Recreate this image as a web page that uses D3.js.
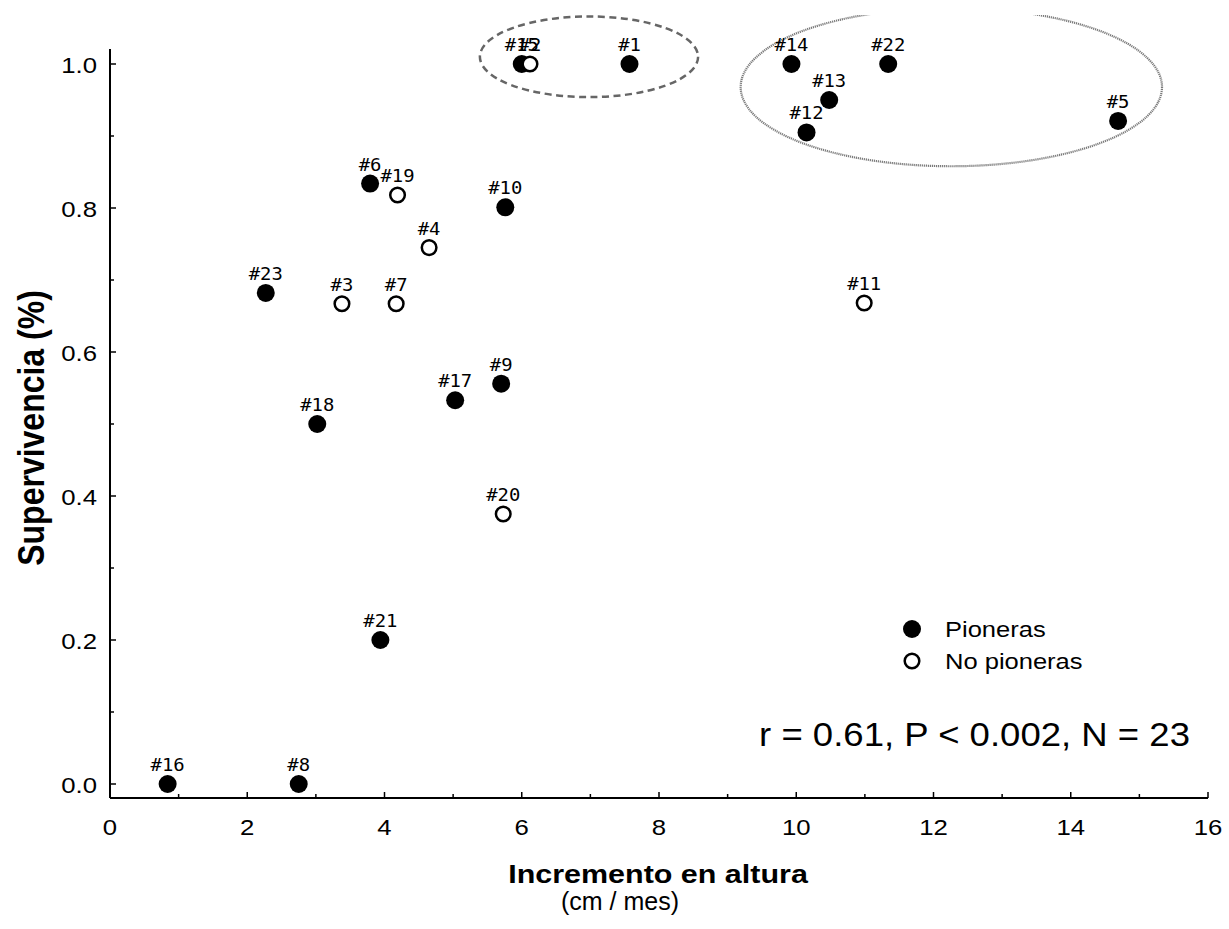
<!DOCTYPE html>
<html>
<head>
<meta charset="utf-8">
<script src="https://cdn.jsdelivr.net/npm/d3@7"></script>
<style>
  html, body { margin: 0; padding: 0; background: #fff; }
  svg { display: block; }
</style>
</head>
<body>
<svg id="chart" width="1229" height="929"></svg>
<script>
// Species identifiers, growth (cm/month), survival proportion and group
const speciesIds = ["#1","#2","#3","#4","#5","#6","#7","#8","#9","#10","#11","#12",
                    "#13","#14","#15","#16","#17","#18","#19","#20","#21","#22","#23"];
const growth   = [7.57, 6.12, 3.38, 4.65, 14.69, 3.79, 4.17, 2.75, 5.70, 5.76, 10.99, 10.15,
                  10.48, 9.93, 6.00, 0.84, 5.03, 3.02, 4.19, 5.73, 3.94, 11.34, 2.27];
const survival = [1.0, 1.0, 0.667, 0.745, 0.921, 0.834, 0.667, 0.0, 0.556, 0.801, 0.668, 0.905,
                  0.95, 1.0, 1.0, 0.0, 0.533, 0.5, 0.818, 0.375, 0.2, 1.0, 0.682];
const pioneer  = [true, false, false, false, true, true, false, true, true, true, false, true,
                  true, true, true, true, true, true, false, false, true, true, true];

const xTicks = [0, 2, 4, 6, 8, 10, 12, 14, 16];
const yTicks = [0, 0.2, 0.4, 0.6, 0.8, 1.0];
const legendLabels = ["Pioneras", "No pioneras"];
const statsText = "r = 0.61, P < 0.002, N = 23";

// Grouping ellipses, in data units: centre x, centre y, radius x, radius y
const groupEllipses = [
  { cx: 6.98, cy: 1.01, rx: 1.59, ry: 0.056, kind: "dashed" },
  { cx: 12.26, cy: 0.968, rx: 3.07, ry: 0.110, kind: "dotted" }
];

const svg = d3.select("#chart");
const x = d3.scaleLinear().domain([0, 16]).range([110, 1208]);
const y = d3.scaleLinear().domain([0, 1]).range([784, 64]);
const axisY = 798;   // x axis sits a little below the zero line
const axisX = 110;

const sans = "'Liberation Sans', Arial, sans-serif";
const mono = "'DejaVu Sans Mono', monospace";

// Text placed at (px, py), optionally widened horizontally by sx
function label(parent, px, py, txt, opts) {
  const o = Object.assign({ size: 20, family: sans, weight: "normal", anchor: "start", sx: 1, rotate: 0 }, opts);
  return parent.append("text")
    .attr("transform", `translate(${px},${py}) scale(${o.sx},1)` + (o.rotate ? ` rotate(${o.rotate})` : ""))
    .attr("text-anchor", o.anchor)
    .style("font-family", o.family).style("font-size", o.size + "px").style("font-weight", o.weight)
    .text(txt);
}

// ---- Axes (ticks point inward) ----
const gx = svg.append("g").attr("transform", `translate(0,${axisY})`);
gx.append("line").attr("x1", x(0)).attr("x2", x(16)).attr("y1", 0).attr("y2", 0)
  .attr("stroke", "#000").attr("stroke-width", 2);
gx.selectAll("line.minor").data(d3.range(1, 16, 2)).join("line")
  .attr("class", "minor").attr("x1", d => x(d)).attr("x2", d => x(d))
  .attr("y1", 0).attr("y2", -4).attr("stroke", "#000").attr("stroke-width", 1.5);
gx.selectAll("line.major").data(xTicks).join("line")
  .attr("class", "major").attr("x1", d => x(d)).attr("x2", d => x(d))
  .attr("y1", 0).attr("y2", -6).attr("stroke", "#000").attr("stroke-width", 1.5);
xTicks.forEach(d => label(gx, x(d), 37, d3.format("d")(d), { size: 23, anchor: "middle", sx: 1.12 }));

const gy = svg.append("g").attr("transform", `translate(${axisX},0)`);
gy.append("line").attr("x1", 0).attr("x2", 0).attr("y1", axisY).attr("y2", 49)
  .attr("stroke", "#000").attr("stroke-width", 2);
gy.selectAll("line.minor").data(d3.range(0.1, 1.0, 0.2)).join("line")
  .attr("class", "minor").attr("x1", 0).attr("x2", 4)
  .attr("y1", d => y(d)).attr("y2", d => y(d)).attr("stroke", "#000").attr("stroke-width", 1.5);
gy.selectAll("line.major").data(yTicks).join("line")
  .attr("class", "major").attr("x1", 0).attr("x2", 6)
  .attr("y1", d => y(d)).attr("y2", d => y(d)).attr("stroke", "#000").attr("stroke-width", 1.5);
yTicks.forEach(d => label(gy, -13, y(d) + 8.5, d3.format(".1f")(d), { size: 23, anchor: "end", sx: 1.12 }));

// ---- Axis titles ----
label(svg, 43.5, 428, "Supervivencia (%)", { size: 32, weight: "bold", anchor: "middle", sx: 1.17, rotate: -90 });
label(svg, 658, 883, "Incremento en altura", { size: 26.5, weight: "bold", anchor: "middle", sx: 1.15 });
label(svg, 620, 910, "(cm / mes)", { size: 25, anchor: "middle" });

// ---- Grouping ellipses ----
svg.append("defs").append("clipPath").attr("id", "topClip")
  .append("rect").attr("x", 0).attr("y", 15).attr("width", 1229).attr("height", 914);
svg.append("g").attr("clip-path", "url(#topClip)")
  .selectAll("ellipse").data(groupEllipses).join("ellipse")
  .attr("cx", d => x(d.cx)).attr("cy", d => y(d.cy))
  .attr("rx", d => x(d.rx) - x(0)).attr("ry", d => y(0) - y(d.ry))
  .attr("fill", "none")
  .attr("stroke", d => d.kind === "dashed" ? "#666" : "#7a7a7a")
  .attr("stroke-width", d => d.kind === "dashed" ? 2.5 : 2.2)
  .attr("stroke-dasharray", d => d.kind === "dashed" ? "7,4.5" : "1.2,0.8");

// ---- Points and labels ----
const pts = speciesIds.map((id, i) => ({ id, gx: growth[i], sv: survival[i], p: pioneer[i] }));
// filled markers first, open markers on top
const ordered = pts.filter(d => d.p).concat(pts.filter(d => !d.p));

svg.append("g").selectAll("circle").data(ordered).join("circle")
  .attr("cx", d => x(d.gx)).attr("cy", d => y(d.sv))
  .attr("r", d => d.p ? 9 : 7.3)
  .attr("fill", d => d.p ? "#000" : "#fff")
  .attr("stroke", "#000")
  .attr("stroke-width", d => d.p ? 0 : 2.5);

const gLabels = svg.append("g");
ordered.forEach(d => label(gLabels, x(d.gx), y(d.sv) - 13, d.id,
  { size: 18, family: mono, anchor: "middle", sx: 1.05 }));

// ---- Legend ----
const legend = svg.append("g");
legendLabels.forEach((lab, i) => {
  const cy = 629 + i * 32;
  legend.append("circle")
    .attr("cx", 912).attr("cy", cy)
    .attr("r", i === 0 ? 9 : 7.3)
    .attr("fill", i === 0 ? "#000" : "#fff")
    .attr("stroke", "#000").attr("stroke-width", i === 0 ? 0 : 2.5);
  label(legend, 945, cy + 8, lab, { size: 22, sx: 1.16 });
});

// ---- Correlation statistics ----
label(svg, 1190, 746, statsText, { size: 34, anchor: "end", sx: 1.075 });
</script>
</body>
</html>
